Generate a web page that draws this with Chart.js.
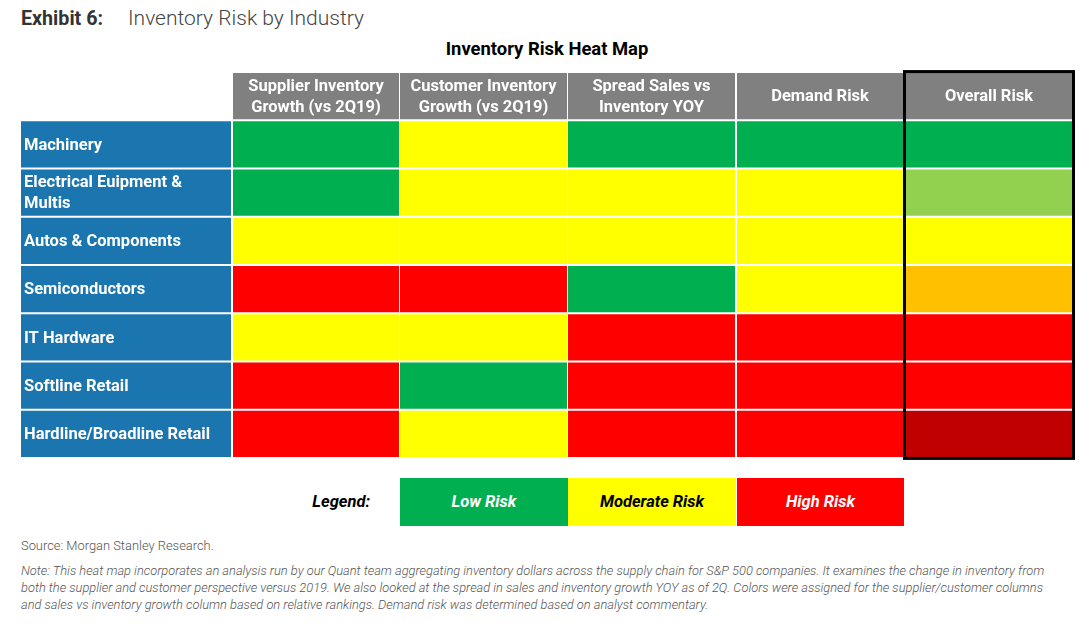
<!DOCTYPE html>
<html>
<head>
<meta charset="utf-8">
<title>Inventory Risk by Industry</title>
<script src="https://cdn.jsdelivr.net/npm/chart.js@4.4.1/dist/chart.umd.min.js"></script>
<style>
  body { margin: 0; background: #fff; font-family: Roboto, "Noto Sans", sans-serif; }
  #page { position: relative; width: 1092px; height: 633px; overflow: hidden; }
  #exhibit { position: absolute; left: 21px; top: 6px; font-size: 19.7px; color: #333; white-space: nowrap; }
  #exhibit b { font-weight: 700; display: inline-block; width: 107px; }
  #exhibit span { font-weight: 300; font-size: 21px; color: #444; }
  #mapTitle { position: absolute; left: 0; width: 1094px; top: 38px; text-align: center; font-weight: 700; font-size: 18.4px; color: #000; }
  #heat { position: absolute; left: 0; top: 60px; }
  #legendLabel { position: absolute; left: 250px; width: 120px; top: 492px; text-align: right; font: italic 700 16.5px Roboto, sans-serif; color: #000; }
  .key { position: absolute; top: 478px; height: 48px; text-align: center; font: italic 700 16.5px Roboto, sans-serif; line-height: 48px; }
  #source { position: absolute; left: 21px; top: 538px; font-size: 12.9px; font-weight: 300; color: #555; }
  #note { position: absolute; left: 21px; top: 562px; width: 1070px; font-size: 12.85px; line-height: 17px; font-style: italic; font-weight: 300; color: #555; white-space: nowrap; }
</style>
</head>
<body>
<div id="page">
  <div id="exhibit"><b>Exhibit 6:</b><span>Inventory Risk by Industry</span></div>
  <div id="mapTitle">Inventory Risk Heat Map</div>
  <canvas id="heat" width="1092" height="410"></canvas>
  <div id="legendLabel">Legend:</div>
  <div id="keys"></div>
  <div id="source">Source: Morgan Stanley Research.</div>
  <div id="note">Note: This heat map incorporates an analysis run by our Quant team aggregating inventory dollars across the supply chain for S&amp;P 500 companies. It examines the change in inventory from<br>both the supplier and customer perspective versus 2019. We also looked at the spread in sales and inventory growth YOY as of 2Q. Colors were assigned for the supplier/customer columns<br>and sales vs inventory growth column based on relative rankings. Demand risk was determined based on analyst commentary.</div>
</div>

<script>
// ===========================
// DATA
// ===========================

// industries (rows, top to bottom)
const industries = [
  "Machinery",
  "Electrical Euipment & Multis",
  "Autos & Components",
  "Semiconductors",
  "IT Hardware",
  "Softline Retail",
  "Hardline/Broadline Retail"
];

// column headers
const columnHeaders = [
  "Supplier Inventory Growth (vs 2Q19)",
  "Customer Inventory Growth (vs 2Q19)",
  "Spread Sales vs Inventory YOY",
  "Demand Risk",
  "Overall Risk"
];

// risk scores: 1 = low, 2 = moderate, 3 = high (halves = in between)
const supplierGrowth = [1, 1, 2, 3, 2, 3, 3];
const customerGrowth = [2, 2, 2, 3, 2, 1, 2];
const spreadSalesInv = [1, 2, 2, 1, 3, 3, 3];
const demandRisk     = [1, 2, 2, 2, 3, 3, 3];
const overallRisk    = [1, 1.5, 2, 2.5, 3, 3, 3.5];

// legend entries
const legendNames  = ["Low Risk", "Moderate Risk", "High Risk"];
const legendScores = [1, 2, 3];

// ===========================
// STYLE / LAYOUT
// ===========================
const RISK_COLORS = {
  1: "#00B050", 1.5: "#92D050", 2: "#FFFF00",
  2.5: "#FFC000", 3: "#FF0000", 3.5: "#C00000"
};
const LEGEND_TEXT = { 1: "#fff", 2: "#000", 3: "#fff" };
const LABEL_BLUE = "#1B76AF";
const HEADER_GREY = "#808080";
const CELL_FONT = "bold 16.5px Roboto, sans-serif";

// column extents on the x scale (pixels from left of table)
const LABEL_SPAN = [0, 210];
const COLUMN_SPANS = [[212, 378], [379, 546], [547, 714], [716, 882], [885, 1051]];

// header lines (wrapped like the original)
const headerLines = [
  ["Supplier Inventory", "Growth (vs 2Q19)"],
  ["Customer Inventory", "Growth (vs 2Q19)"],
  ["Spread Sales vs", "Inventory YOY"],
  ["Demand Risk"],
  ["Overall Risk"]
];
const rowLines = industries.map(n => n === "Electrical Euipment & Multis" ? ["Electrical Euipment &", "Multis"] : [n]);

const columnValues = [supplierGrowth, customerGrowth, spreadSalesInv, demandRisk, overallRisk];

// ===========================
// DATASETS
// ===========================
const yLabels = ["header"].concat(industries);

let datasets = [{
  label: "Industry",
  data: [null].concat(industries.map(() => LABEL_SPAN.slice())),
  backgroundColor: [null].concat(industries.map(() => LABEL_BLUE))
}];

columnValues.forEach((vals, c) => {
  datasets.push({
    label: columnHeaders[c],
    data: [COLUMN_SPANS[c].slice()].concat(vals.map(() => COLUMN_SPANS[c].slice())),
    backgroundColor: [HEADER_GREY].concat(vals.map(v => RISK_COLORS[v]))
  });
});

datasets.forEach(d => {
  d.grouped = false;
  d.borderWidth = 0;
  d.categoryPercentage = 1;
  d.barPercentage = 0.955;
});

// draws header text, row labels and the box round the overall column
const cellText = {
  id: "cellText",
  afterDatasetsDraw(chart) {
    const ctx = chart.ctx;
    ctx.save();
    ctx.fillStyle = "#fff";
    ctx.textBaseline = "middle";
    ctx.font = CELL_FONT;

    // row labels
    const labelBars = chart.getDatasetMeta(0).data;
    ctx.textAlign = "left";
    rowLines.forEach((lines, i) => {
      const el = labelBars[i + 1];
      const p = el.getProps(["x", "y", "base"], true);
      const y0 = p.y + 1 - (lines.length - 1) * 10.5;
      lines.forEach((t, k) => ctx.fillText(t, Math.min(p.x, p.base) + 3, y0 + k * 21));
    });

    // headers
    ctx.textAlign = "center";
    headerLines.forEach((lines, c) => {
      const el = chart.getDatasetMeta(c + 1).data[0];
      const p = el.getProps(["x", "y", "base"], true);
      const cx = (p.x + p.base) / 2;
      const y0 = p.y + 1 - (lines.length - 1) * 10.5;
      lines.forEach((t, k) => ctx.fillText(t, cx, y0 + k * 21));
    });

    // black frame round Overall Risk
    const last = chart.getDatasetMeta(columnValues.length).data;
    const top = last[0].getProps(["y", "height"], true);
    const bot = last[last.length - 1].getProps(["y", "height", "x", "base"], true);
    const left = Math.min(bot.x, bot.base), right = Math.max(bot.x, bot.base);
    const t = top.y - top.height / 2 - 1.5;
    const b = bot.y + bot.height / 2 + 1.5;
    ctx.strokeStyle = "#000";
    ctx.lineWidth = 3;
    ctx.strokeRect(left - 1.5, t, right - left + 3, b - t);
    ctx.restore();
  }
};

new Chart(document.getElementById("heat").getContext("2d"), {
  type: "bar",
  data: { labels: yLabels, datasets: datasets },
  options: {
    indexAxis: "y",
    responsive: false,
    animation: false,
    layout: { padding: { left: 21, right: 20, top: 12, bottom: 12 } },
    scales: {
      x: { type: "linear", min: 0, max: 1051, display: false },
      y: { type: "category", display: false }
    },
    plugins: { legend: { display: false }, tooltip: { enabled: false } }
  },
  plugins: [cellText]
});

// legend keys below the table, aligned with columns 2-4
const keys = document.getElementById("keys");
legendNames.forEach((name, i) => {
  const span = COLUMN_SPANS[i + 1];
  const div = document.createElement("div");
  div.className = "key";
  div.style.left = (21 + span[0]) + "px";
  div.style.width = (span[1] - span[0] + 1) + "px";
  div.style.background = RISK_COLORS[legendScores[i]];
  div.style.color = LEGEND_TEXT[legendScores[i]];
  div.textContent = name;
  keys.appendChild(div);
});
</script>
</body>
</html>
